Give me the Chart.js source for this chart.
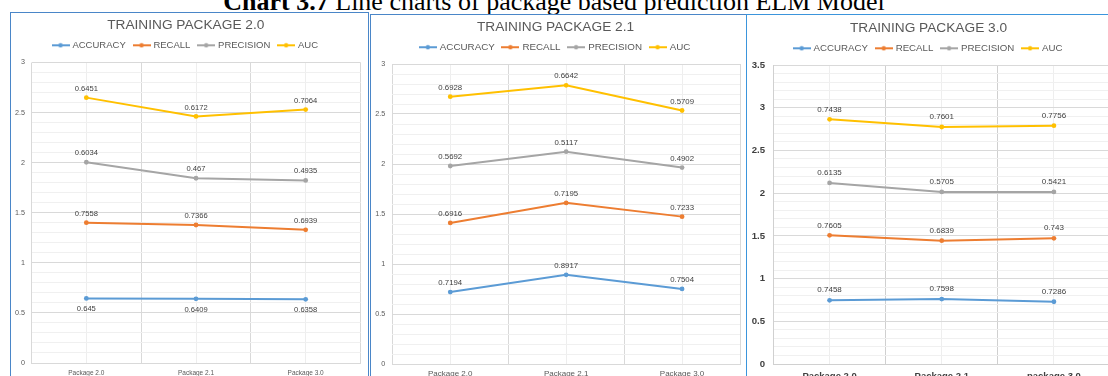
<!DOCTYPE html>
<html><head><meta charset="utf-8">
<script src="https://cdn.jsdelivr.net/npm/chart.js@4"></script>
<style>
html,body{margin:0;padding:0;width:1108px;height:376px;overflow:hidden;background:#fff;position:relative}
.doc{position:absolute;left:0;top:-11px;width:1108px;text-align:center;font:26px/1 "Liberation Serif","Times New Roman",serif;color:#000;white-space:nowrap}
.panel{position:absolute;background:#fff;border:1px solid #4a86c8;box-sizing:border-box;overflow:hidden}
canvas{display:block}
</style></head><body>
<div class="doc"><b>Chart 3.7</b> Line charts of package based prediction ELM Model</div>
<div class="panel" id="p1" style="left:10px;top:12px;width:359px;height:380px"><canvas id="c1"></canvas></div>
<div class="panel" id="p2" style="left:370px;top:14px;width:377px;height:380px"><canvas id="c2"></canvas></div>
<div class="panel" id="p3" style="left:746px;top:14px;width:380px;height:380px;border-color:#3b95dc"><canvas id="c3"></canvas></div>
<script>
// ---- data ----
const categoriesA = ['Package 2.0', 'Package 2.1', 'Package 3.0'];
const categoriesB = ['Package 2.0', 'Package 2.1', 'package 3.0'];
const seriesNames = ['ACCURACY', 'RECALL', 'PRECISION', 'AUC'];
const seriesColors = ['#5b9bd5', '#ed7d31', '#a5a5a5', '#ffc000'];

const p20Accuracy  = [0.645, 0.6409, 0.6358];
const p20Recall    = [0.7558, 0.7366, 0.6939];
const p20Precision = [0.6034, 0.467, 0.4935];
const p20Auc       = [0.6451, 0.6172, 0.7064];

const p21Accuracy  = [0.7194, 0.8917, 0.7504];
const p21Recall    = [0.6916, 0.7195, 0.7233];
const p21Precision = [0.5692, 0.5117, 0.4902];
const p21Auc       = [0.6928, 0.6642, 0.5709];

const p30Accuracy  = [0.7458, 0.7598, 0.7286];
const p30Recall    = [0.7605, 0.6839, 0.743];
const p30Precision = [0.6135, 0.5705, 0.5421];
const p30Auc       = [0.7438, 0.7601, 0.7756];

const yTicksA = [0, 0.5, 1, 1.5, 2, 2.5, 3];
const yTicksB = [0, 0.5, 1, 1.5, 2, 2.5, 3, 3.5];
const minorStep = 0.1;

// ---- helpers ----
const FONT = '"Liberation Sans", Arial, sans-serif';

function legendMark(color) {
  const c = document.createElement('canvas');
  c.width = 18; c.height = 6;
  const g = c.getContext('2d');
  g.strokeStyle = color; g.lineWidth = 2;
  g.beginPath(); g.moveTo(0, 3); g.lineTo(18, 3); g.stroke();
  g.fillStyle = color; g.beginPath(); g.arc(9, 3, 2.2, 0, Math.PI * 2); g.fill();
  return c;
}
const marks = seriesColors.map(legendMark);

const valueLabels = {
  id: 'valueLabels',
  afterDatasetsDraw(chart, args, opts) {
    const ctx = chart.ctx;
    ctx.save();
    ctx.font = opts.size + 'px ' + FONT;
    ctx.fillStyle = opts.color;
    ctx.textAlign = 'center';
    ctx.textBaseline = 'middle';
    chart.data.datasets.forEach((ds, i) => {
      const meta = chart.getDatasetMeta(i);
      const below = opts.below && opts.below[i];
      meta.data.forEach((pt, j) => {
        ctx.fillText(String(ds.data[j]), pt.x, pt.y + (below ? opts.offsetBelow : -opts.offset));
      });
    });
    ctx.restore();
  }
};

function makeChart(id, cfg) {
  const canvas = document.getElementById(id);
  canvas.width = cfg.W; canvas.height = cfg.H;
  canvas.style.width = cfg.W + 'px'; canvas.style.height = cfg.H + 'px';

  const titlePadTop = cfg.titleCenter - cfg.titleSize / 2;
  const titleBottom = cfg.titleCenter + cfg.titleSize / 2;
  const legPad = cfg.legendCenter - titleBottom - cfg.legendSize / 2;
  const legendBottom = titleBottom + cfg.legendSize + legPad + 10;
  const topAxisH = Math.max(0, cfg.plotTop - legendBottom);
  const yMax = cfg.yTicks[cfg.yTicks.length - 1];

  const datasets = cfg.series.map((vals, i) => ({
    label: seriesNames[i],
    data: vals,
    xAxisID: 'x',
    yAxisID: 'y',
    borderColor: seriesColors[i],
    backgroundColor: seriesColors[i],
    borderWidth: 2,
    pointRadius: 2.4,
    pointBorderWidth: 0,
    pointBackgroundColor: seriesColors[i],
    fill: false,
    tension: 0
  }));

  return new Chart(canvas, {
    type: 'line',
    data: { labels: cfg.categories, datasets },
    plugins: [valueLabels],
    options: {
      responsive: false,
      animation: false,
      devicePixelRatio: 1,
      layout: { padding: { left: 0, right: cfg.W - cfg.plotRight, top: 0, bottom: 0 } },
      scales: {
        x: {
          type: 'category',
          offset: true,
          grid: { offset: true, color: cfg.vGridMajor, drawTicks: false },
          border: { display: true, color: cfg.axisColor },
          ticks: { color: cfg.xTickColor, padding: cfg.xTickPad, maxRotation: 0, autoSkip: false,
                   font: { family: FONT, size: cfg.xTickSize, weight: cfg.xTickWeight } },
          afterFit: s => { s.height = cfg.H - cfg.plotBottom; }
        },
        xc: {
          type: 'category',
          labels: cfg.categories,
          position: 'top',
          offset: true,
          grid: { offset: false, color: '#eeeeee', drawTicks: false },
          border: { display: false },
          ticks: { display: false },
          afterFit: s => { s.height = topAxisH; }
        },
        y: {
          type: 'linear',
          position: 'left',
          stacked: true,
          min: 0, max: yMax,
          grid: { color: '#d9d9d9', drawTicks: false },
          border: { display: false },
          afterBuildTicks: s => { s.ticks = cfg.yTicks.map(v => ({ value: v })); },
          ticks: { color: cfg.yTickColor, padding: cfg.yTickPad,
                   callback: v => String(v),
                   font: { family: FONT, size: cfg.yTickSize, weight: cfg.yTickWeight } },
          afterFit: s => { s.width = cfg.plotLeft; }
        },
        ym: {
          type: 'linear',
          position: 'left',
          min: 0, max: yMax,
          grid: { drawTicks: false,
                  color: c => { const v = c.tick ? c.tick.value : 0; return Math.abs(v * 2 - Math.round(v * 2)) < 1e-6 ? 'rgba(0,0,0,0)' : '#f0f0f0'; } },
          border: { display: false },
          ticks: { display: false, stepSize: minorStep },
          afterFit: s => { s.width = 0; }
        }
      },
      plugins: {
        title: {
          display: true, text: cfg.title, color: '#595959',
          font: { family: FONT, size: cfg.titleSize, weight: 'normal', lineHeight: 1 },
          padding: { top: titlePadTop, bottom: 0 }
        },
        legend: {
          display: true, position: 'top',
          labels: {
            usePointStyle: true, pointStyleWidth: 14.25, boxHeight: cfg.legendSize,
            padding: legPad, color: '#595959',
            font: { family: FONT, size: cfg.legendSize },
            generateLabels: chart => Chart.defaults.plugins.legend.labels.generateLabels(chart)
              .map((it, i) => Object.assign(it, { pointStyle: marks[i], rotation: 0 }))
          }
        },
        tooltip: { enabled: false },
        valueLabels: cfg.labels
      }
    }
  });
}

makeChart('c1', {
  W: 357, H: 380, title: 'TRAINING PACKAGE 2.0', categories: categoriesA, yTicks: yTicksA,
  series: [p20Accuracy, p20Recall, p20Precision, p20Auc],
  titleSize: 13.7, titleCenter: 12, legendSize: 9.5, legendCenter: 32.3,
  plotTop: 49.5, plotBottom: 350, plotLeft: 20.5, plotRight: 349.5,
  vGridMajor: '#d9d9d9', axisColor: '#d9d9d9',
  xTickColor: '#595959', xTickSize: 6.5, xTickWeight: 'normal', xTickPad: 6.5,
  yTickColor: '#595959', yTickSize: 7.2, yTickWeight: 'normal', yTickPad: 6.5,
  labels: { size: 7.6, color: '#404040', offset: 9, offsetBelow: 11, below: [true, false, false, false] }
});

makeChart('c2', {
  W: 375, H: 380, title: 'TRAINING PACKAGE 2.1', categories: categoriesA, yTicks: yTicksA,
  series: [p21Accuracy, p21Recall, p21Precision, p21Auc],
  titleSize: 13.7, titleCenter: 12, legendSize: 9.8, legendCenter: 32.2,
  plotTop: 49, plotBottom: 349, plotLeft: 21.3, plotRight: 369,
  vGridMajor: '#d9d9d9', axisColor: '#d9d9d9',
  xTickColor: '#595959', xTickSize: 8, xTickWeight: 'normal', xTickPad: 4.7,
  yTickColor: '#595959', yTickSize: 7.2, yTickWeight: 'normal', yTickPad: 7,
  labels: { size: 7.8, color: '#404040', offset: 9, offsetBelow: 11, below: [false, false, false, false] }
});

makeChart('c3', {
  W: 378, H: 380, title: 'TRAINING PACKAGE 3.0', categories: categoriesB, yTicks: yTicksB,
  series: [p30Accuracy, p30Recall, p30Precision, p30Auc],
  titleSize: 13.7, titleCenter: 13, legendSize: 9.7, legendCenter: 33.3,
  plotTop: 50, plotBottom: 349, plotLeft: 26.5, plotRight: 363,
  vGridMajor: '#d0d0d0', axisColor: '#d0d0d0',
  xTickColor: '#404040', xTickSize: 9.5, xTickWeight: 'bold', xTickPad: 6.7,
  yTickColor: '#404040', yTickSize: 9.6, yTickWeight: 'bold', yTickPad: 8.5,
  labels: { size: 8, color: '#404040', offset: 10, offsetBelow: 11, below: [false, false, false, false] }
});
</script>
</body></html>
